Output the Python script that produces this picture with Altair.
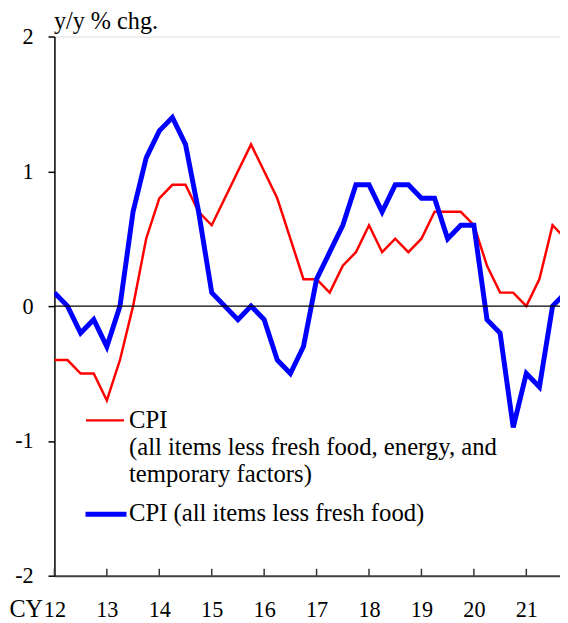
import altair as alt
import pandas as pd

# Quarterly data, CY2012 Q1 .. CY2021 Q4 (y/y % chg.)
quarters = [12 + i / 4 for i in range(40)]
cpi_core = [-0.4, -0.4, -0.5, -0.5,
            -0.7, -0.4, 0.0, 0.5,
            0.8, 0.9, 0.9, 0.7,
            0.6, 0.8, 1.0, 1.2,
            1.0, 0.8, 0.5, 0.2,
            0.2, 0.1, 0.3, 0.4,
            0.6, 0.4, 0.5, 0.4,
            0.5, 0.7, 0.7, 0.7,
            0.6, 0.3, 0.1, 0.1,
            0.0, 0.2, 0.6, 0.5]
cpi_less_fresh = [0.1, 0.0, -0.2, -0.1,
                  -0.3, 0.0, 0.7, 1.1,
                  1.3, 1.4, 1.2, 0.7,
                  0.1, 0.0, -0.1, 0.0,
                  -0.1, -0.4, -0.5, -0.3,
                  0.2, 0.4, 0.6, 0.9,
                  0.9, 0.7, 0.9, 0.9,
                  0.8, 0.8, 0.5, 0.6,
                  0.6, -0.1, -0.2, -0.9,
                  -0.5, -0.6, 0.0, 0.1]
year_ticks = [12, 13, 14, 15, 16, 17, 18, 19, 20, 21]
y_ticks = [-2, -1, 0, 1, 2]
legend_red = ["CPI", "(all items less fresh food, energy, and", "temporary factors)"]
legend_blue = "CPI (all items less fresh food)"

W = 512
H = 546
FONT = "Liberation Serif"
XMAX = 12 + W / 53.1

df = pd.DataFrame({"q": quarters, "core": cpi_core, "lf": cpi_less_fresh})

xscale = alt.Scale(domain=[12, XMAX], nice=False, zero=False)
yscale = alt.Scale(domain=[-2, 2], nice=False)

base = alt.Chart(df)

red = base.mark_line(color="#ff0000", strokeWidth=2.5, clip=True).encode(
    x=alt.X("q:Q", scale=xscale,
            axis=alt.Axis(values=year_ticks, labelExpr="'' + datum.value", title="CY", grid=False,
                          tickSize=0, labelPadding=41, labelBaseline="alphabetic",
                          labelFont=FONT, labelFontSize=22.5, labelColor="black",
                          labelFlush=False, labelOverlap=False,
                          domainColor="#404040", domainWidth=2,
                          titleFont=FONT, titleFontSize=24.5, titleFontWeight="normal",
                          titleColor="black", titleAlign="right", titleBaseline="alphabetic",
                          titleX=-12, titleY=41, titleAngle=0)),
    y=alt.Y("core:Q", scale=yscale,
            axis=alt.Axis(values=y_ticks, labelExpr="'' + datum.value", title="y/y % chg.", grid=False,
                          tickSize=6.5, tickColor="black", tickWidth=1.5,
                          domainColor="black", domainWidth=1.5,
                          labelPadding=15, labelFont=FONT, labelFontSize=22.5,
                          labelColor="black", labelBaseline="middle",
                          titleFont=FONT, titleFontSize=24.5, titleFontWeight="normal",
                          titleColor="black", titleAngle=0, titleAlign="left",
                          titleBaseline="alphabetic", titleX=-1, titleY=-8)),
)

blue = base.mark_line(color="#0000ff", strokeWidth=5, clip=True).encode(
    x=alt.X("q:Q", scale=xscale),
    y=alt.Y("lf:Q", scale=yscale),
)

zero = alt.Chart(pd.DataFrame({"v": [0]})).mark_rule(color="black", strokeWidth=1.5).encode(
    y=alt.Y("v:Q", scale=yscale), x=alt.value(0), x2=alt.value(W)
)

xticks = alt.Chart(pd.DataFrame({"t": year_ticks})).mark_rule(color="#333333", strokeWidth=1.5).encode(
    x=alt.X("t:Q", scale=xscale), y=alt.value(H), y2=alt.value(H - 7)
)

leg_layers = []
leg_layers.append(alt.Chart(pd.DataFrame({"s": ["red"]})).mark_rule(color="#ff0000", strokeWidth=2.5).encode(
    x=alt.value(32), x2=alt.value(70.5), y=alt.value(388.7)))
leg_layers.append(alt.Chart(pd.DataFrame({"s": ["blue"]})).mark_rule(color="#0000ff", strokeWidth=5).encode(
    x=alt.value(31.5), x2=alt.value(73), y=alt.value(483.7)))
for txt, yy in zip(legend_red, [396.3, 423.7, 451.0]):
    leg_layers.append(alt.Chart(pd.DataFrame({"label": [txt]})).mark_text(
        font=FONT, fontSize=25, align="left", baseline="alphabetic", color="black").encode(
        text="label:N", x=alt.value(75.5), y=alt.value(yy)))
leg_layers.append(alt.Chart(pd.DataFrame({"label": [legend_blue]})).mark_text(
    font=FONT, fontSize=25, align="left", baseline="alphabetic", color="black").encode(
    text="label:N", x=alt.value(75.5), y=alt.value(490.3)))

chart = alt.layer(red, blue, zero, xticks, *leg_layers).properties(
    width=W, height=H,
    autosize=alt.AutoSizeParams(type="none"),
    padding={"left": 47, "top": 25, "right": 0, "bottom": 44},
).configure_view(stroke=None).configure(background="white")

chart.save("out.html", embed_options={"renderer": "svg", "actions": False})
